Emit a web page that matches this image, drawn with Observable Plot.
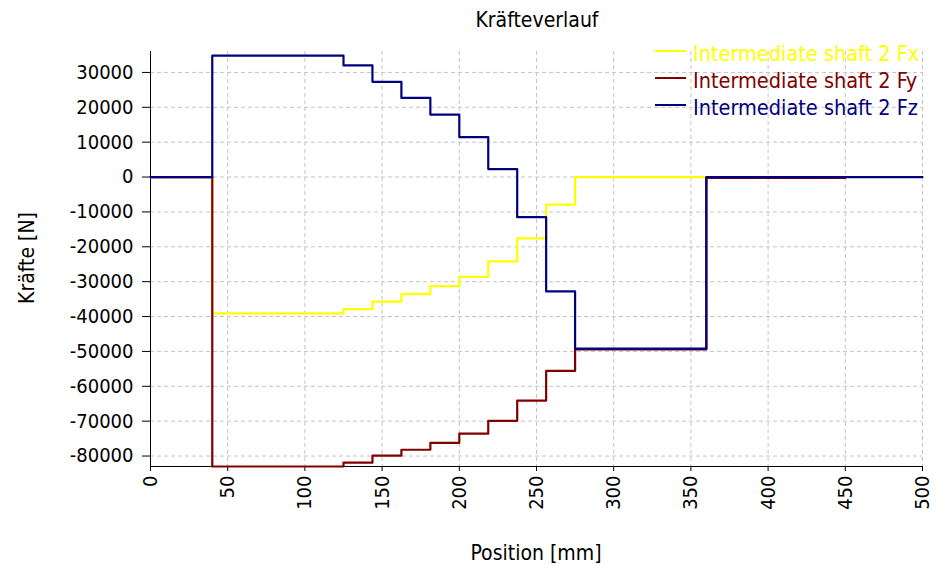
<!DOCTYPE html>
<html>
<head>
<meta charset="utf-8">
<script src="https://cdn.jsdelivr.net/npm/d3@7"></script>
<script src="https://cdn.jsdelivr.net/npm/@observablehq/plot@0.6"></script>
<style>
  body { margin: 0; background: #fff; }
  #wrap { position: relative; width: 938px; height: 572px; font-family: "DejaVu Sans Condensed", "DejaVu Sans", sans-serif; }
  #title { position: absolute; left: 387px; width: 300px; top: 7px; text-align: center; font-size: 21px; line-height: 26px; color: #000; }
  #xlabel { position: absolute; left: 386px; width: 300px; top: 540px; text-align: center; font-size: 21px; line-height: 26px; color: #000; }
  #ylabel { position: absolute; left: 27px; top: 258px; width: 200px; margin-left: -100px; margin-top: -13px; text-align: center; font-size: 21px; line-height: 26px; color: #000; transform: rotate(-90deg); }
  #legend { position: absolute; left: 655px; top: 42px; }
  .lrow { position: relative; height: 27px; white-space: nowrap; font-size: 21.5px; }
  .lrow .sw { position: absolute; left: 0; top: 8px; width: 31px; height: 2px; }
  .lrow .tx { position: absolute; left: 38px; top: -1px; line-height: 26px; }
</style>
</head>
<body>
<div id="wrap">
  <div id="chart"></div>
  <div id="title"></div>
  <div id="xlabel"></div>
  <div id="ylabel"></div>
  <div id="legend"></div>
</div>
<script>
// Data
const positions = [0, 40, 125, 143.75, 162.5, 181.25, 200, 218.75, 237.5, 256.25, 275, 360, 450, 500];
const fxValues = [0, -39100, -37900, -35700, -33600, -31300, -28600, -24200, -17600, -7900, 0, 0, 0, null];
const fyValues = [0, -83000, -81900, -79900, -78200, -76200, -73600, -69900, -64100, -55600, -49400, -250, -250, null];
const fzValues = [0, 34800, 32000, 27300, 22700, 17900, 11450, 2300, -11500, -32800, -49200, 0, 0, 0];
const seriesNames = ["Intermediate shaft 2 Fx", "Intermediate shaft 2 Fy", "Intermediate shaft 2 Fz"];
const seriesColors = ["#ffff00", "#800000", "#000080"];
const xTicks = [0, 50, 100, 150, 200, 250, 300, 350, 400, 450, 500];
const yTicks = [30000, 20000, 10000, 0, -10000, -20000, -30000, -40000, -50000, -60000, -70000, -80000];
const xDomain = [0, 500];
const yDomain = [-83000, 36000];
const titleText = "Kräfteverlauf";
const xLabel = "Position [mm]";
const yLabel = "Kräfte [N]";

const allValues = [fxValues, fyValues, fzValues];
const rows = [];
allValues.forEach((vals, i) => {
  positions.forEach((p, j) => {
    if (vals[j] !== null) rows.push({ x: p, y: vals[j], series: seriesNames[i] });
  });
});

const font = '"DejaVu Sans Condensed", "DejaVu Sans", sans-serif';
const plot = Plot.plot({
  width: 938,
  height: 572,
  marginLeft: 150,
  marginRight: 16,
  marginTop: 51,
  marginBottom: 106,
  style: { fontFamily: font, fontSize: "20px", color: "#000", background: "#fff", overflow: "visible" },
  x: { domain: xDomain },
  y: { domain: yDomain },
  color: { domain: seriesNames, range: seriesColors },
  marks: [
    Plot.gridY(yTicks, { stroke: "#c4c4c4", strokeOpacity: 1, strokeDasharray: "4,3" }),
    Plot.gridX(xTicks.slice(1), { stroke: "#c4c4c4", strokeOpacity: 1, strokeDasharray: "4,3" }),
    Plot.axisY(yTicks, { tickSize: 8, tickPadding: 9, fontSize: 20, tickFormat: d => String(d), label: null }),
    Plot.axisX(xTicks, { tickSize: 5, tickPadding: 4, fontSize: 20, tickRotate: -90, tickFormat: d => String(d), label: null }),
    Plot.ruleX([xDomain[0]], { stroke: "#000", strokeWidth: 1 }),
    Plot.ruleY([yDomain[0]], { stroke: "#000", strokeWidth: 1 }),
    Plot.line(rows, { x: "x", y: "y", z: "series", stroke: "series", curve: "step-after", strokeWidth: 2.2 })
  ]
});
document.getElementById("chart").appendChild(plot);

document.getElementById("title").textContent = titleText;
document.getElementById("xlabel").textContent = xLabel;
document.getElementById("ylabel").textContent = yLabel;
const legend = document.getElementById("legend");
seriesNames.forEach((name, i) => {
  const row = document.createElement("div");
  row.className = "lrow";
  const sw = document.createElement("div");
  sw.className = "sw";
  sw.style.background = seriesColors[i];
  const tx = document.createElement("div");
  tx.className = "tx";
  tx.style.color = seriesColors[i];
  tx.textContent = name;
  row.appendChild(sw);
  row.appendChild(tx);
  legend.appendChild(row);
});
</script>
</body>
</html>
